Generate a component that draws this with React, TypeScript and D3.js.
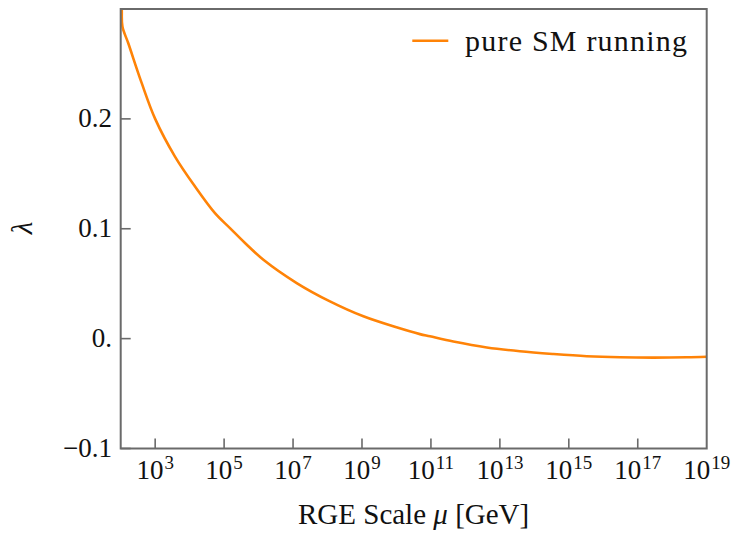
import React from "react";
import * as d3 from "d3";

const W = 734;
const H = 534;

// log10(mu / GeV) and lambda
const log10Mu = [2.0, 2.03, 2.05, 2.22, 2.61, 3.0, 3.575, 4.155, 4.735, 5.17, 5.606, 6.14, 7.106, 8.07, 9.04, 10.0, 10.68, 10.97, 11.65, 12.62, 13.58, 14.55, 15.52, 16.49, 17.45, 18.42, 19.0];
const lambda = [0.32, 0.3, 0.284, 0.2688, 0.2325, 0.2, 0.1657, 0.1385, 0.1142, 0.1006, 0.087, 0.0718, 0.0506, 0.0339, 0.0203, 0.0103, 0.0041, 0.0021, -0.0026, -0.008, -0.0115, -0.014, -0.016, -0.017, -0.0173, -0.017, -0.0165];

const xTickExps = [3, 5, 7, 9, 11, 13, 15, 17, 19];
const yTicks = [0.2, 0.1, 0, -0.1];
const yTickLabels = ["0.2", "0.1", "0.", "\u22120.1"];
const legendLabel = "pure SM running";
const xLabel = "RGE Scale ";
const yLabel = "\u03bb";

const FONT = "'Liberation Serif', 'DejaVu Serif', serif";
const ORANGE = "#ff8307";
const FRAME = "#6a6a6a";

export default function App() {
  const left = 120.7, right = 706.7, top = 9, bottom = 448.5;
  const x = d3.scaleLog().domain([1e2, 1e19]).range([left, right]);
  const y = d3.scaleLinear().domain([-0.1, 0.3]).range([bottom, top]);

  const pts: [number, number][] = log10Mu.map((l, i) => [Math.pow(10, l), lambda[i]]);
  const line = d3
    .line<[number, number]>()
    .x((d) => x(d[0]))
    .y((d) => y(d[1]))
    .curve(d3.curveCatmullRom.alpha(0.5));

  return (
    <svg
      width={W}
      height={H}
      style={{ position: "absolute", left: 0, top: 0, background: "#fff" }}
      fontFamily={FONT}
    >
      <defs>
        <clipPath id="plotclip">
          <rect x={left} y={top} width={right - left} height={bottom - top} />
        </clipPath>
      </defs>
      <rect width={W} height={H} fill="#fff" />
      <path
        d={line(pts) || ""}
        fill="none"
        stroke={ORANGE}
        strokeWidth={2.6}
        clipPath="url(#plotclip)"
      />
      {/* x ticks */}
      {xTickExps.map((e) => {
        const xx = x(Math.pow(10, e));
        return (
          <g key={e}>
            {e < 19 && (
              <line x1={xx} x2={xx} y1={bottom} y2={bottom - 10} stroke={FRAME} strokeWidth={1.6} />
            )}
            <text x={xx} y={478.5} fontSize={27} textAnchor="middle" fill="#111">
              10
              <tspan dx={1} dy={-10} fontSize={19}>
                {e}
              </tspan>
            </text>
          </g>
        );
      })}
      {/* y ticks */}
      {yTicks.map((t, i) => {
        const yy = y(t);
        return (
          <g key={t}>
            <line x1={left} x2={left + 10} y1={yy} y2={yy} stroke={FRAME} strokeWidth={1.6} />
            <text x={112} y={yy + 8.5} fontSize={27} textAnchor="end" fill="#111">
              {yTickLabels[i]}
            </text>
          </g>
        );
      })}
      {/* frame */}
      <rect
        x={left}
        y={top}
        width={right - left}
        height={bottom - top}
        fill="none"
        stroke={FRAME}
        strokeWidth={2}
      />
      {/* legend */}
      <line x1={412.3} x2={448.3} y1={40.7} y2={40.7} stroke={ORANGE} strokeWidth={2.4} />
      <text x={465} y={51} fontSize={30} fill="#111" textLength={222} lengthAdjust="spacing">
        {legendLabel}
      </text>
      {/* axis labels */}
      <text x={298} y={523.5} fontSize={29} fill="#111">
        {xLabel}
        <tspan fontStyle="italic">{"\u03bc"}</tspan>
        {" [GeV]"}
      </text>
      <text
        transform="translate(32,228) rotate(-90)"
        fontSize={29}
        fontStyle="italic"
        textAnchor="middle"
        fill="#111"
      >
        {yLabel}
      </text>
    </svg>
  );
}
